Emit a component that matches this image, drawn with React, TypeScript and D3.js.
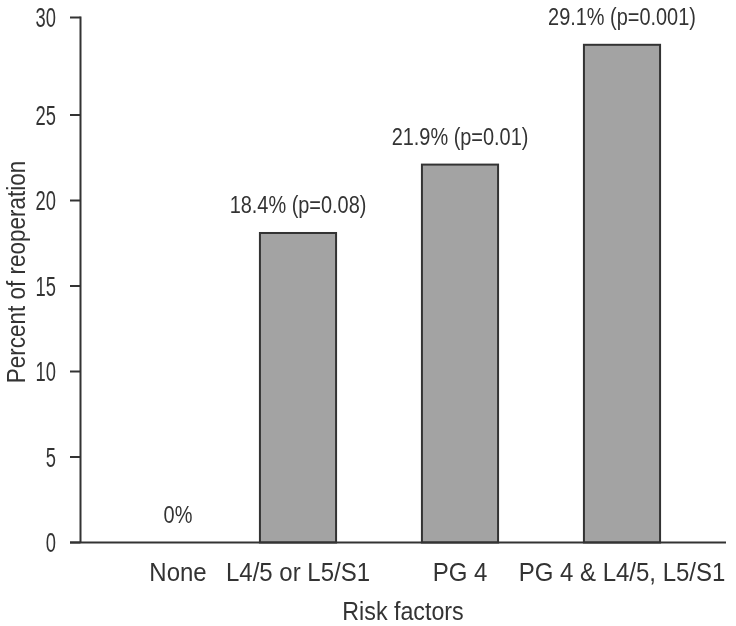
import { useEffect, useRef } from 'react'
import * as d3 from 'd3'

const categories = ['None', 'L4/5 or L5/S1', 'PG 4', 'PG 4 & L4/5, L5/S1']
const values = [0, 18.1, 22.1, 28.6]
const barLabels = ['0%', '18.4% (p=0.08)', '21.9% (p=0.01)', '29.1% (p=0.001)']
const yTicks = [0, 5, 10, 15, 20, 25, 30]

const FONT = '"Liberation Sans", Arial, sans-serif'
const INK = '#333333'

export default function App() {
  const svgRef = useRef<SVGSVGElement>(null)

  useEffect(() => {
    if (!svgRef.current) return
    const svg = d3.select(svgRef.current)
    svg.selectAll('*').remove()

    const width = 736
    const height = 626
    svg.attr('width', width).attr('height', height)

    const axisX = 80.5
    const y0 = 542.5

    const x = d3
      .scaleBand<string>()
      .domain(categories)
      .range([55, 703])
      .paddingInner(0.53)
      .paddingOuter(0.265)

    // the printed axis is stretched above 25, so the scale is piecewise
    const y = d3.scaleLinear().domain([0, 25, 30]).range([y0, 115, 17.5])

    // the "None" label sits closer to the axis than its band centre
    const noneShift = 42
    const cx = (c: string, i: number) => x(c)! + x.bandwidth() / 2 + (i === 0 ? noneShift : 0)

    const g = svg.append('g')

    // bars
    g.selectAll('rect.bar')
      .data(categories.filter((_, i) => values[i] > 0))
      .enter()
      .append('rect')
      .attr('class', 'bar')
      .attr('x', (d) => x(d)!)
      .attr('width', x.bandwidth())
      .attr('y', (d) => y(values[categories.indexOf(d)]))
      .attr('height', (d) => y0 - y(values[categories.indexOf(d)]))
      .attr('fill', '#a3a3a3')
      .attr('stroke', INK)
      .attr('stroke-width', 2)

    // value labels (condensed face in the original)
    g.selectAll('text.val')
      .data(categories)
      .enter()
      .append('text')
      .attr('class', 'val')
      .attr('transform', (d, i) => `translate(${cx(d, i)},${y(values[i]) - 20}) scale(0.83,1)`)
      .attr('text-anchor', 'middle')
      .attr('font-family', FONT)
      .attr('font-size', 24)
      .attr('fill', INK)
      .text((_, i) => barLabels[i])

    // y axis
    g.append('line')
      .attr('x1', axisX)
      .attr('x2', axisX)
      .attr('y1', y(30) - 1)
      .attr('y2', y0)
      .attr('stroke', INK)
      .attr('stroke-width', 2)

    g.selectAll('line.ytick')
      .data(yTicks)
      .enter()
      .append('line')
      .attr('class', 'ytick')
      .attr('x1', 70)
      .attr('x2', axisX)
      .attr('y1', (d) => y(d))
      .attr('y2', (d) => y(d))
      .attr('stroke', INK)
      .attr('stroke-width', 2)

    g.selectAll('text.ytick')
      .data(yTicks)
      .enter()
      .append('text')
      .attr('class', 'ytick')
      .attr('transform', (d) => `translate(56,${y(d)}) scale(0.68,1)`)
      .attr('dy', '0.36em')
      .attr('text-anchor', 'end')
      .attr('font-family', FONT)
      .attr('font-size', 27)
      .attr('fill', INK)
      .text((d) => d)

    // x axis
    g.append('line')
      .attr('x1', 70)
      .attr('x2', 726)
      .attr('y1', y0)
      .attr('y2', y0)
      .attr('stroke', INK)
      .attr('stroke-width', 2)

    g.selectAll('text.xtick')
      .data(categories)
      .enter()
      .append('text')
      .attr('class', 'xtick')
      .attr('transform', (d, i) => `translate(${cx(d, i)},581) scale(0.96,1)`)
      .attr('text-anchor', 'middle')
      .attr('font-family', FONT)
      .attr('font-size', 25)
      .attr('fill', INK)
      .text((d) => d)

    // axis titles
    g.append('text')
      .attr('transform', 'translate(403,620) scale(0.93,1)')
      .attr('text-anchor', 'middle')
      .attr('font-family', FONT)
      .attr('font-size', 25)
      .attr('fill', INK)
      .text('Risk factors')

    g.append('text')
      .attr('transform', 'translate(25,272) rotate(-90) scale(0.9,1)')
      .attr('text-anchor', 'middle')
      .attr('font-family', FONT)
      .attr('font-size', 25)
      .attr('fill', INK)
      .text('Percent of reoperation')
  }, [])

  return (
    <div style={{ position: 'fixed', left: 0, top: 0 }}>
      <svg ref={svgRef} style={{ display: 'block' }}></svg>
    </div>
  )
}
